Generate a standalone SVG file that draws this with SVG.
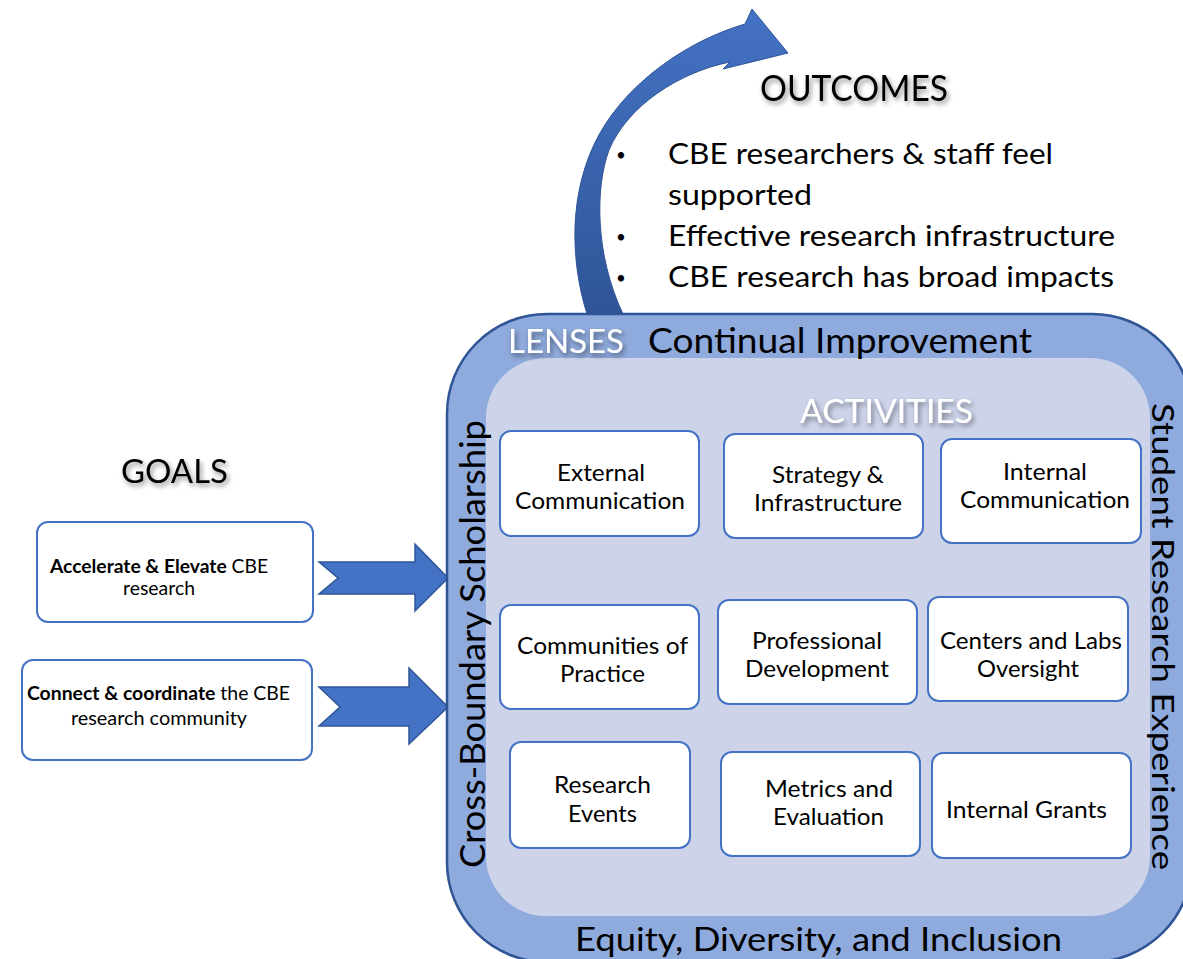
<svg xmlns="http://www.w3.org/2000/svg" width="1183" height="959" viewBox="0 0 1183 959">
<defs>
<style>
.t{font-family:Lato,'Liberation Sans',sans-serif;fill:#000;}
.w{fill:#fff;}
.act{font-size:23px;}
.goal{font-size:19px;}
.out{font-size:28px;}
.big{font-size:32px;}
.bul{font-size:17px;text-anchor:middle;}
.box{fill:#fff;stroke:#4472C4;stroke-width:2;}
.arr{fill:#4472C4;stroke:#2F5597;stroke-width:1.5;stroke-linejoin:miter;}
</style>
<filter id="sh" x="-20%" y="-40%" width="140%" height="200%">
<feDropShadow dx="2" dy="3" stdDeviation="2.5" flood-color="#000" flood-opacity="0.45"/>
</filter>
<linearGradient id="cg" x1="0" y1="0" x2="0" y2="1">
<stop offset="0" stop-color="#4472C4"/>
<stop offset="1" stop-color="#2F5597"/>
</linearGradient>
</defs>
<rect width="1183" height="959" fill="#fff"/>

<g id="connectors">
<path id="curved-arrow" d="M587,314 C570,260 568,190 600,133 C630,80 690,40 745,24 L752,9 L788,53 L723,69 L730,62 C680,72 628,105 609,150 C595,188 595,255 623,314 Z" fill="url(#cg)" stroke="#2F5597" stroke-width="1"/>
<polygon id="arrow-goal1" class="arr" points="319,562 415,562 415,544 448,578 415,611 415,594 319,594 338,578"/>
<polygon id="arrow-goal2" class="arr" points="319,687 409,687 409,668 448,707 409,744 409,726 319,726 340,707"/>
</g>

<g id="lenses">
<rect x="447" y="314" width="745" height="648" rx="100" fill="#8FAADC" stroke="#2F5597" stroke-width="2.5"/>
<rect x="486" y="358" width="664" height="558" rx="60" fill="#CDD4EA"/>
<text class="t w big" x="508" y="353" textLength="116" lengthAdjust="spacingAndGlyphs" filter="url(#sh)">LENSES</text>
<text class="t" x="648" y="353" font-size="34" textLength="384" lengthAdjust="spacingAndGlyphs">Continual Improvement</text>
<text class="t big" x="575" y="951" textLength="487" lengthAdjust="spacingAndGlyphs">Equity, Diversity, and Inclusion</text>
<text class="t" font-size="35" transform="translate(485,868) rotate(-90)" textLength="448" lengthAdjust="spacingAndGlyphs">Cross-Boundary Scholarship</text>
<text class="t" font-size="31" transform="translate(1152,403) rotate(90)" textLength="467" lengthAdjust="spacingAndGlyphs">Student Research Experience</text>
<text class="t w big" x="800" y="423" textLength="173" lengthAdjust="spacingAndGlyphs" filter="url(#sh)">ACTIVITIES</text>
</g>

<g id="outcomes">
<text class="t" x="760" y="101" font-size="36" textLength="188" lengthAdjust="spacingAndGlyphs" filter="url(#sh)">OUTCOMES</text>
<text class="t bul" x="621" y="161">•</text>
<text class="t out" x="668" y="164" textLength="385" lengthAdjust="spacingAndGlyphs">CBE researchers &amp; staff feel</text>
<text class="t out" x="668" y="205" textLength="144" lengthAdjust="spacingAndGlyphs">supported</text>
<text class="t bul" x="621" y="243">•</text>
<text class="t out" x="668" y="246" textLength="447" lengthAdjust="spacingAndGlyphs">Effective research infrastructure</text>
<text class="t bul" x="621" y="284">•</text>
<text class="t out" x="668" y="287" textLength="446" lengthAdjust="spacingAndGlyphs">CBE research has broad impacts</text>
</g>

<g id="goals">
<text class="t big" x="121" y="483" textLength="107" lengthAdjust="spacingAndGlyphs" filter="url(#sh)">GOALS</text>
</g>
<g id="goal-accelerate">
<rect class="box" x="37" y="522" width="276" height="100" rx="11"/>
<text class="t goal" x="50" y="573" textLength="218" lengthAdjust="spacingAndGlyphs"><tspan font-weight="bold">Accelerate &amp; Elevate</tspan> CBE</text>
<text class="t goal" x="123" y="595" textLength="72" lengthAdjust="spacingAndGlyphs">research</text>
</g>
<g id="goal-connect">
<rect class="box" x="22" y="660" width="290" height="100" rx="11"/>
<text class="t goal" x="27" y="700" textLength="263" lengthAdjust="spacingAndGlyphs"><tspan font-weight="bold">Connect &amp; coordinate</tspan> the CBE</text>
<text class="t goal" x="71" y="725" textLength="176" lengthAdjust="spacingAndGlyphs">research community</text>
</g>

<g id="act-external">
<rect class="box" x="500" y="431" width="199" height="105" rx="11"/>
<text class="t act" x="557" y="481" textLength="88" lengthAdjust="spacingAndGlyphs">External</text>
<text class="t act" x="515" y="509" textLength="170" lengthAdjust="spacingAndGlyphs">Communication</text>
</g>
<g id="act-strategy">
<rect class="box" x="724" y="434" width="199" height="104" rx="11"/>
<text class="t act" x="772" y="483" textLength="112" lengthAdjust="spacingAndGlyphs">Strategy &amp;</text>
<text class="t act" x="754" y="511" textLength="148" lengthAdjust="spacingAndGlyphs">Infrastructure</text>
</g>
<g id="act-internal">
<rect class="box" x="941" y="439" width="200" height="104" rx="11"/>
<text class="t act" x="1003" y="480" textLength="84" lengthAdjust="spacingAndGlyphs">Internal</text>
<text class="t act" x="960" y="508" textLength="170" lengthAdjust="spacingAndGlyphs">Communication</text>
</g>
<g id="act-communities">
<rect class="box" x="500" y="605" width="199" height="104" rx="11"/>
<text class="t act" x="517" y="654" textLength="171" lengthAdjust="spacingAndGlyphs">Communities of</text>
<text class="t act" x="560" y="682" textLength="85" lengthAdjust="spacingAndGlyphs">Practice</text>
</g>
<g id="act-professional">
<rect class="box" x="718" y="600" width="199" height="104" rx="11"/>
<text class="t act" x="752" y="649" textLength="130" lengthAdjust="spacingAndGlyphs">Professional</text>
<text class="t act" x="745" y="677" textLength="144" lengthAdjust="spacingAndGlyphs">Development</text>
</g>
<g id="act-centers">
<rect class="box" x="928" y="597" width="200" height="104" rx="11"/>
<text class="t act" x="940" y="649" textLength="182" lengthAdjust="spacingAndGlyphs">Centers and Labs</text>
<text class="t act" x="977" y="677" textLength="102" lengthAdjust="spacingAndGlyphs">Oversight</text>
</g>
<g id="act-events">
<rect class="box" x="510" y="742" width="180" height="106" rx="11"/>
<text class="t act" x="554" y="793" textLength="97" lengthAdjust="spacingAndGlyphs">Research</text>
<text class="t act" x="568" y="822" textLength="69" lengthAdjust="spacingAndGlyphs">Events</text>
</g>
<g id="act-metrics">
<rect class="box" x="721" y="752" width="199" height="104" rx="11"/>
<text class="t act" x="765" y="797" textLength="128" lengthAdjust="spacingAndGlyphs">Metrics and</text>
<text class="t act" x="773" y="825" textLength="111" lengthAdjust="spacingAndGlyphs">Evaluation</text>
</g>
<g id="act-grants">
<rect class="box" x="932" y="753" width="199" height="105" rx="11"/>
<text class="t act" x="946" y="818" textLength="161" lengthAdjust="spacingAndGlyphs">Internal Grants</text>
</g>
</svg>
